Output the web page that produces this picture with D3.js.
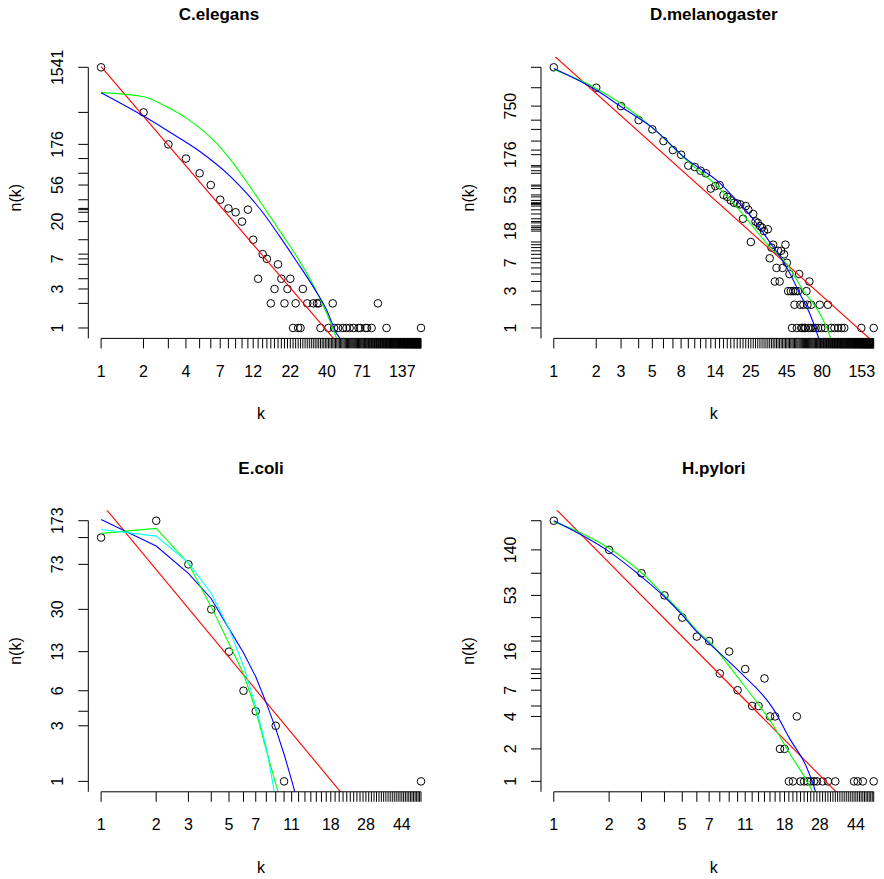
<!DOCTYPE html>
<html><head><meta charset="utf-8">
<script src="https://cdn.jsdelivr.net/npm/d3@7"></script>
<style>
body{margin:0;background:#fff;}
svg text{font-family:"Liberation Sans",Arial,Helvetica,sans-serif;fill:#000;}
</style></head><body>
<svg id="chart" width="884" height="879"></svg>
<script>
// ---------- C.elegans ----------
const ceK = [1,2,3,4,5,6,7,8,9,10,11,12,13,14,15,16,17,18,19,20,21,22,23,24,25,26,27,29,32,34,35,36,41,44,45,48,52,55,58,62,67,69,75,77,83,92,106,186];
const ceN = [1541,433,176,118,78,56,37,29,26,20,28,12,4,8,7,2,3,6,4,2,3,4,1,2,1,1,3,2,2,2,2,1,1,2,1,1,1,1,1,1,1,1,1,1,1,2,1,1];
const ceXLabels = [1,2,4,7,12,22,40,71,137];
const ceYLabels = [1,3,7,20,56,176,1541];
const ceRedK = [1,50];
const ceRedN = [1570,0.59];
const ceGreenK = [1,2,2.92,4.05,5.04,6.61,8.68,11.4,15,19.6,25.8,33.9,40.9,46.9,50];
const ceGreenN = [755,674,508,366,276,181,103,53.3,26.5,13.3,6.43,2.76,1.36,0.74,0.55];
const ceBlueK = [1,2,3,5,8.22,10.8,14.2,18.6,24.4,32,39.9,46.9,49.5,52];
const ceBlueN = [755,391,255,145,72,44.2,25.1,13,6.5,3.18,1.65,0.85,0.74,0.55];

// ---------- D.melanogaster ----------
const dmK = [1,2,3,4,5,6,7,8,9,10,11,12,13,14,15,16,17,18,19,20,21,22,23,24,25,26,27,28,29,30,31,33,34,35,36,37,38,39,40,41,42,43,44,45,46,47,48,49,50,51,52,53,54,55,56,57,58,59,60,61,62,63,64,65,66,67,69,72,75,77,79,84,88,93,98,104,110,115,152,186];
const dmN = [2385,1297,750,493,374,264,202,176,127,122,109,101,64,69,71,53,50,45,42,41,40,26,38,34,13,30,24,23,21,20,18,19,8,11,12,4,6,10,4,10,6,9,12,7,3,5,3,1,3,2,3,1,3,5,2,1,1,2,1,1,3,2,1,4,1,2,1,1,1,2,1,1,2,1,1,1,1,1,1,1];
const dmXLabels = [1,2,3,5,8,14,25,45,80,153];
const dmYLabels = [1,3,7,18,53,176,750];
const dmRedK = [1,190];
const dmRedN = [3396,0.63];
const dmGreenK = [1,2,2.94,5.06,8.73,15,19.8,25.9,34,44.7,58.6,77,92.2,96];
const dmGreenN = [2243,1271,828,386,150,64,37,20.4,11.2,6.84,3.08,1.54,0.73,0.55];
const dmBlueK = [1,2,3,5,8.7,15,19.8,25.9,34,44.7,55.6,65.4,75.7,80];
const dmBlueN = [2310,1210,735,395,155,76,45,26,13,6.2,2.8,1.54,0.73,0.5];

// ---------- E.coli ----------
const ecK = [1,2,3,4,5,6,7,9,10,56];
const ecN = [124,173,73,30,13,6,4,3,1,1];
const ecXLabels = [1,2,3,5,7,11,18,28,44];
const ecYLabels = [1,3,6,13,30,73,173];
const ecRedK = [1,22];
const ecRedN = [245,0.7];
const ecGreenK = [1,2,3,4,5,6,7,8,9,10];
const ecGreenN = [134.6,148.6,74.3,31.5,15.3,8.4,4.08,1.85,0.95,0.56];
const ecBlueK = [1,2,3,4,5,6,7,8,9,10,11,12];
const ecBlueN = [177.5,105,61,37,20.5,12.7,7.9,4.7,2.84,1.71,1.02,0.62];
const ecCyanK = [1,2,3,4,5,6,7,8,9];
const ecCyanN = [145.6,127.7,75.3,41,20.5,9.8,4.4,1.95,0.7];

// ---------- H.pylori ----------
const hpK = [1,2,3,4,5,6,7,8,9,10,11,12,13,14,15,16,17,18,19,20,21,22,23,24,25,26,27,29,31,34,43,45,48,55];
const hpN = [261,140,85,53,33,22,20,10,16,7,11,5,5,9,4,4,2,2,1,1,4,1,1,1,1,1,1,1,1,1,1,1,1,1];
const hpXLabels = [1,2,3,5,7,11,18,28,44];
const hpYLabels = [1,2,4,7,16,53,140];
const hpRedK = [1,40];
const hpRedN = [350,0.615];
const hpGreenK = [1,2,3,4,5,6,7,10.3,12.7,15.6,19.2,23.7,25.8,27];
const hpGreenN = [256,145,86,53,36,25,19.7,8.67,5.45,3.31,1.81,1.02,0.77,0.6];
const hpBlueK = [1,2,3,4,5,6,7,10.3,15.6,19.2,23.7,26.6,28];
const hpBlueN = [261,135,79,51.5,34.8,24.4,19,10.3,4.73,2.49,1.36,0.79,0.55];

const titles = ["C.elegans","D.melanogaster","E.coli","H.pylori"];

// ---------- layout / style ----------
const L = {w:345.5, h:281.5, tick:10, lblOff:32.5, ylblOff:31.2, ytitleOff:73, xtitleOff:75,
  font:16, titleFont:17, r:3.8, lw:1.1};
const RED="#ff0000", GREEN="#00ff00", BLUE="#0000ff", CYAN="#00ffff";

const panels = [
  {title:titles[0], left:88.3, top:56.9, titleX:219, k:ceK, n:ceN, xl:ceXLabels, yl:ceYLabels, smooth:true,
   fits:[[ceRedK,ceRedN,RED],[ceGreenK,ceGreenN,GREEN],[ceBlueK,ceBlueN,BLUE]]},
  {title:titles[1], left:541, top:56.9, titleX:null, k:dmK, n:dmN, xl:dmXLabels, yl:dmYLabels, smooth:true,
   fits:[[dmRedK,dmRedN,RED],[dmGreenK,dmGreenN,GREEN],[dmBlueK,dmBlueN,BLUE]]},
  {title:titles[2], left:88.3, top:510.3, titleX:null, k:ecK, n:ecN, xl:ecXLabels, yl:ecYLabels, smooth:false,
   fits:[[ecRedK,ecRedN,RED],[ecBlueK,ecBlueN,BLUE],[ecGreenK,ecGreenN,GREEN],[ecCyanK,ecCyanN,CYAN]]},
  {title:titles[3], left:541, top:510.3, titleX:null, k:hpK, n:hpN, xl:hpXLabels, yl:hpYLabels, smooth:true,
   fits:[[hpRedK,hpRedN,RED],[hpGreenK,hpGreenN,GREEN],[hpBlueK,hpBlueN,BLUE]]}
];

const svg = d3.select("#chart");
svg.append("rect").attr("width",884).attr("height",879).attr("fill","#fff");

function expandedLogDomain(vals){
  const lo = Math.log10(d3.min(vals)), hi = Math.log10(d3.max(vals));
  const e = 0.04*(hi-lo);
  return [Math.pow(10,lo-e), Math.pow(10,hi+e)];
}

panels.forEach((p,i)=>{
  const g = svg.append("g");
  const bottom = p.top + L.h;
  const x = d3.scaleLog().domain(expandedLogDomain(p.k)).range([p.left, p.left+L.w]);
  const y = d3.scaleLog().domain(expandedLogDomain(p.n)).range([bottom, p.top]);
  const kmax = d3.max(p.k), nmax = d3.max(p.n);

  const clipId = "clip"+i;
  svg.append("clipPath").attr("id",clipId).append("rect")
    .attr("x",p.left).attr("y",p.top).attr("width",L.w).attr("height",L.h);

  // points
  g.selectAll("circle.pt").data(p.k.map((k,j)=>[k,p.n[j]])).join("circle")
    .attr("class","pt").attr("cx",d=>x(d[0])).attr("cy",d=>y(d[1])).attr("r",L.r)
    .attr("fill","none").attr("stroke","#000").attr("stroke-width",1);

  // fits
  const line = d3.line().x(d=>x(d[0])).y(d=>y(d[1])).curve(p.smooth? d3.curveMonotoneX : d3.curveLinear);
  p.fits.forEach(f=>{
    g.append("path").attr("clip-path",`url(#${clipId})`)
      .datum(f[0].map((k,j)=>[k,f[1][j]]))
      .attr("d",line).attr("fill","none").attr("stroke",f[2]).attr("stroke-width",L.lw);
  });

  // x axis: rug ticks at every integer degree
  const xt = d3.range(1, kmax+1);
  const ax = g.append("g").attr("stroke","#000").attr("stroke-width",1);
  ax.append("line").attr("x1",x(1)).attr("x2",x(kmax)).attr("y1",bottom).attr("y2",bottom);
  ax.selectAll("line.xt").data(xt).join("line").attr("class","xt")
    .attr("x1",d=>x(d)).attr("x2",d=>x(d)).attr("y1",bottom).attr("y2",bottom+L.tick);
  g.selectAll("text.xl").data(p.xl).join("text").attr("class","xl")
    .attr("x",d=>x(d)).attr("y",bottom+L.lblOff).attr("dy","0.36em")
    .attr("text-anchor","middle").attr("font-size",L.font).text(d=>d);

  // y axis: ticks at observed counts
  const yt = Array.from(new Set(p.n));
  const ay = g.append("g").attr("stroke","#000").attr("stroke-width",1);
  ay.append("line").attr("x1",p.left).attr("x2",p.left).attr("y1",y(nmax)).attr("y2",bottom);
  ay.selectAll("line.yt").data(yt).join("line").attr("class","yt")
    .attr("x1",p.left-L.tick).attr("x2",p.left).attr("y1",d=>y(d)).attr("y2",d=>y(d));
  g.selectAll("text.yl").data(p.yl).join("text").attr("class","yl")
    .attr("transform",d=>`translate(${p.left-L.ylblOff},${y(d)}) rotate(-90)`)
    .attr("dy","0.36em").attr("text-anchor","middle").attr("font-size",L.font).text(d=>d);

  // axis titles
  g.append("text").attr("x",p.left+L.w/2).attr("y",bottom+L.xtitleOff).attr("dy","0.36em")
    .attr("text-anchor","middle").attr("font-size",L.font).text("k");
  g.append("text").attr("transform",`translate(${p.left-L.ytitleOff},${p.top+L.h/2}) rotate(-90)`)
    .attr("dy","0.36em").attr("text-anchor","middle").attr("font-size",L.font).text("n(k)");

  // main title
  g.append("text").attr("x", p.titleX!==null ? p.titleX : p.left+L.w/2).attr("y",p.top-36.5)
    .attr("text-anchor","middle").attr("font-size",L.titleFont).attr("font-weight","bold").text(p.title);
});
</script>
</body></html>
